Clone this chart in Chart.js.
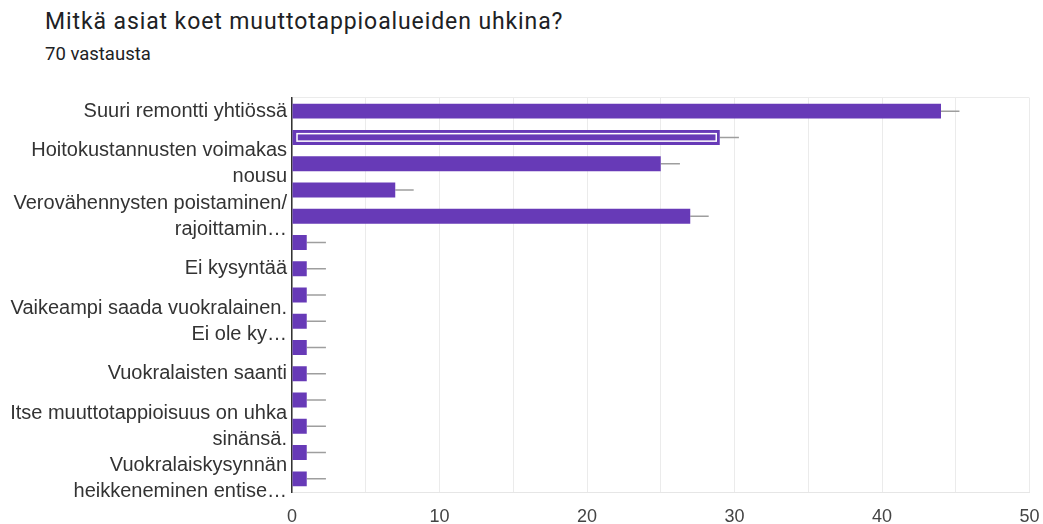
<!DOCTYPE html>
<html>
<head>
<meta charset="utf-8">
<script src="https://cdn.jsdelivr.net/npm/chart.js@4"></script>
<style>
  html, body { margin: 0; padding: 0; background: #fff; }
  body { width: 1043px; height: 524px; position: relative; overflow: hidden; }
  .title {
    position: absolute; left: 45px; top: 8px;
    font: 23px Roboto, sans-serif; letter-spacing: 0.9px; color: #202124; white-space: nowrap;
  }
  .count {
    position: absolute; left: 45px; top: 43px;
    font: 18.5px Roboto, sans-serif; color: #202124;
  }
  .wrap { position: absolute; left: 0; top: 80px; width: 1043px; height: 444px; }
</style>
</head>
<body>
<div class="title">Mitkä asiat koet muuttotappioalueiden uhkina?</div>
<div class="count">70 vastausta</div>
<div class="wrap"><canvas id="uhat"></canvas></div>
<script>
// vastausvaihtoehdot (vain osa näkyy akselilla)
const categories = [
    'Suuri remontti yhtiössä',
    '',
    ['Hoitokustannusten voimakas', 'nousu'],
    '',
    ['Verovähennysten poistaminen/', 'rajoittamin…'],
    '',
    'Ei kysyntää',
    '',
    ['Vaikeampi saada vuokralainen.', 'Ei ole ky…'],
    '',
    'Vuokralaisten saanti',
    '',
    ['Itse muuttotappioisuus on uhka', 'sinänsä.'],
    '',
    ['Vuokralaiskysynnän', 'heikkeneminen entise…']
];
const answers = [44, 29, 25, 7, 27, 1, 1, 1, 1, 1, 1, 1, 1, 1, 1];
const whiskerEnds = [45.25, 30.3, 26.3, 8.25, 28.25, 2.3, 2.3, 2.3, 2.3, 2.3, 2.3, 2.3, 2.3, 2.3, 2.3];
const xTicks = [0, 10, 20, 30, 40, 50];
const selectedBar = 1;

const purple = '#673ab7';

// valitun palkin valkoinen sisäreunus
const selectedOutline = {
    id: 'selectedOutline',
    afterDatasetsDraw(chart) {
        const bar = chart.getDatasetMeta(0).data[selectedBar];
        if (!bar) return;
        const p = bar.getProps(['x', 'y', 'base', 'height'], true);
        const ctx = chart.ctx;
        ctx.save();
        ctx.strokeStyle = '#fff';
        ctx.lineWidth = 1.5;
        ctx.strokeRect(p.base + 4.5, p.y - p.height / 2 + 3.75, p.x - p.base - 8, p.height - 7.5);
        ctx.restore();
    }
};

new Chart(document.getElementById('uhat'), {
    type: 'bar',
    data: {
        labels: categories,
        datasets: [{
            label: 'Vastaukset',
            data: answers,
            backgroundColor: purple,
            categoryPercentage: 1,
            barPercentage: 0.57,
            order: 1
        }, {
            label: 'Vaihteluväli',
            data: answers.map((v, i) => [v, whiskerEnds[i]]),
            backgroundColor: '#9e9e9e',
            grouped: false,
            maxBarThickness: 1.5,
            order: 2
        }]
    },
    options: {
        indexAxis: 'y',
        responsive: true,
        maintainAspectRatio: false,
        animation: false,
        layout: { padding: { top: 18, right: 13.5, bottom: 0, left: 0 } },
        plugins: {
            legend: { display: false },
            tooltip: { enabled: false }
        },
        scales: {
            x: {
                min: 0,
                max: 50,
                afterBuildTicks(scale) {
                    scale.ticks = [0, 5, 10, 15, 20, 25, 30, 35, 40, 45, 50].map(v => ({ value: v }));
                },
                afterFit(scale) {
                    scale.height = 32;
                    scale.paddingLeft = 0;
                    scale.paddingRight = 0;
                },
                ticks: {
                    padding: 14,
                    color: '#444',
                    font: { family: 'Liberation Sans, Arial, sans-serif', size: 18 },
                    callback: v => xTicks.includes(v) ? v : ''
                },
                grid: { color: '#ebebeb', drawTicks: false },
                border: { color: '#e6e6e6' }
            },
            y: {
                afterFit(scale) {
                    scale.width = 292;
                    scale.paddingTop = 0;
                    scale.paddingBottom = 0;
                },
                ticks: {
                    autoSkip: false,
                    padding: 5,
                    color: '#333',
                    font: { family: 'Liberation Sans, Arial, sans-serif', size: 20, lineHeight: 1.3 }
                },
                grid: {
                    drawTicks: false,
                    color: ctx => ctx.index === 0 ? '#ebebeb' : 'transparent'
                },
                border: { color: '#333', width: 1.5 }
            }
        }
    },
    plugins: [selectedOutline]
});
</script>
</body>
</html>
